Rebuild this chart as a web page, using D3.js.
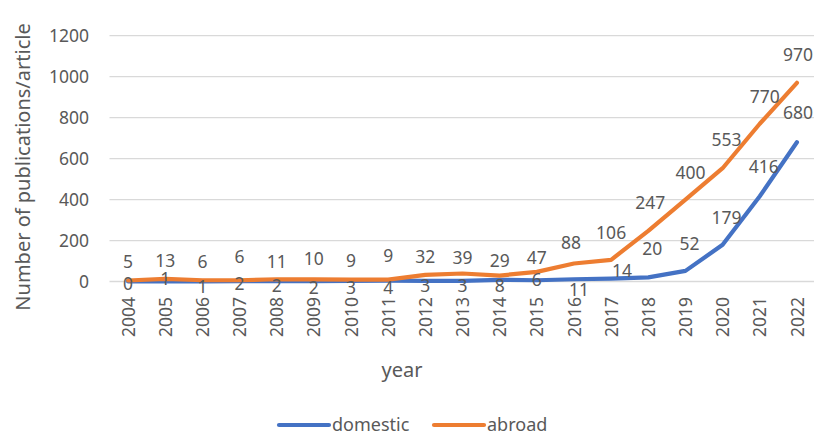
<!DOCTYPE html>
<html>
<head>
<meta charset="utf-8">
<script src="https://cdn.jsdelivr.net/npm/d3@7"></script>
<style>
  html, body { margin: 0; padding: 0; background: #fff; }
  svg text { font-family: "Noto Sans", "Open Sans", sans-serif; fill: #595959; }
</style>
</head>
<body>
<svg id="chart" width="814" height="435"></svg>
<script>
// Publications per year, domestic vs abroad
const years = ["2004","2005","2006","2007","2008","2009","2010","2011","2012","2013",
               "2014","2015","2016","2017","2018","2019","2020","2021","2022"];
const domestic = [0, 1, 1, 2, 2, 2, 3, 4, 3, 3, 8, 6, 11, 14, 20, 52, 179, 416, 680];
const abroad   = [5, 13, 6, 6, 11, 10, 9, 9, 32, 39, 29, 47, 88, 106, 247, 400, 553, 770, 970];
const yTicks = [0, 200, 400, 600, 800, 1000, 1200];

// Label nudges (px) so overlapping value labels stay readable
const domesticLabelDy = [2, -2, 6, 3, 5, 7, 7, 7, 5, 5, 6, 0, 11, -8, -29, -27, -27, -29, -29];
const domesticLabelDx = [0, 0, 0, 0, 0, 0, 0, 0, 0, 0, 0, 0, 5, 11, 4, 4, 4, 4, 1];
const abroadLabelDy   = [-19, -18, -18, -23, -17, -21, -19, -24, -18, -16, -15, -14, -21, -27, -28, -27, -28, -27, -28];
const abroadLabelDx   = [0, 0, 0, 0, 0, 0, 0, 0, 0, 0, 0, 0, -3, 0, 2, 5, 4, 5, 1];

const seriesList = [
  { name: "domestic", values: domestic, color: "#4472C4", dy: domesticLabelDy, dx: domesticLabelDx },
  { name: "abroad",   values: abroad,   color: "#ED7D31", dy: abroadLabelDy,   dx: abroadLabelDx }
];

const svg = d3.select("#chart");
const fontSize = 17.5;
const titleSize = 20;
const legendSize = 18;

const x = d3.scalePoint().domain(years).range([109.5, 815.5]).padding(0.5);
const y = d3.scaleLinear().domain([0, 1200]).range([281.5, 35.7]);

// Horizontal gridlines
svg.append("g").selectAll("line").data(yTicks).join("line")
  .attr("x1", 109.5).attr("x2", 815.5)
  .attr("y1", d => y(d)).attr("y2", d => y(d))
  .attr("stroke", "#D9D9D9").attr("stroke-width", 1.3);

// Y axis tick labels
const yAxis = d3.axisLeft(y).tickValues(yTicks).tickSize(0).tickPadding(0).tickFormat(d3.format("d"));
const yg = svg.append("g").attr("transform", "translate(89,0)").call(yAxis);
yg.select(".domain").remove();
yg.selectAll("text").attr("font-size", fontSize).attr("font-family", null).attr("fill", "#595959").attr("dy", "0.35em");

// X axis tick labels, rotated
const xAxis = d3.axisBottom(x).tickSize(0).tickPadding(0);
const xg = svg.append("g").attr("transform", "translate(0,295)").call(xAxis);
xg.select(".domain").remove();
xg.selectAll("text")
  .attr("font-size", fontSize).attr("font-family", null).attr("fill", "#595959")
  .attr("transform", "rotate(-90)")
  .attr("text-anchor", "end")
  .attr("x", -2).attr("y", 0).attr("dy", "0.35em");

// Axis titles
svg.append("text")
  .attr("transform", "translate(23,167) rotate(-90)")
  .attr("text-anchor", "middle").attr("font-size", titleSize)
  .attr("dy", "0.35em")
  .text("Number of publications/article");
svg.append("text")
  .attr("x", 402).attr("y", 377)
  .attr("text-anchor", "middle").attr("font-size", titleSize)
  .text("year");

// Lines
const line = d3.line()
  .x((d, i) => x(years[i]))
  .y(d => y(d));

svg.append("g").selectAll("path").data(seriesList).join("path")
  .attr("d", s => line(s.values))
  .attr("fill", "none")
  .attr("stroke", s => s.color)
  .attr("stroke-width", 4.2)
  .attr("stroke-linejoin", "round")
  .attr("stroke-linecap", "round");

// Value labels
seriesList.forEach(s => {
  svg.append("g").selectAll("text").data(s.values).join("text")
    .attr("x", (d, i) => x(years[i]) + s.dx[i])
    .attr("y", (d, i) => y(d) + s.dy[i])
    .attr("dy", "0.35em")
    .attr("text-anchor", "middle")
    .attr("font-size", fontSize)
    .attr("fill", "#404040")
    .text(d => d);
});

// Legend
const legend = [
  { name: "domestic", color: "#4472C4", x: 279 },
  { name: "abroad",   color: "#ED7D31", x: 434 }
];
const lg = svg.append("g").selectAll("g").data(legend).join("g")
  .attr("transform", d => `translate(${d.x},425)`);
lg.append("line")
  .attr("x1", 0).attr("x2", 50)
  .attr("stroke", d => d.color).attr("stroke-width", 4.2).attr("stroke-linecap", "round");
lg.append("text")
  .attr("x", 53).attr("dy", "0.33em")
  .attr("font-size", legendSize)
  .text(d => d.name);
</script>
</body>
</html>
